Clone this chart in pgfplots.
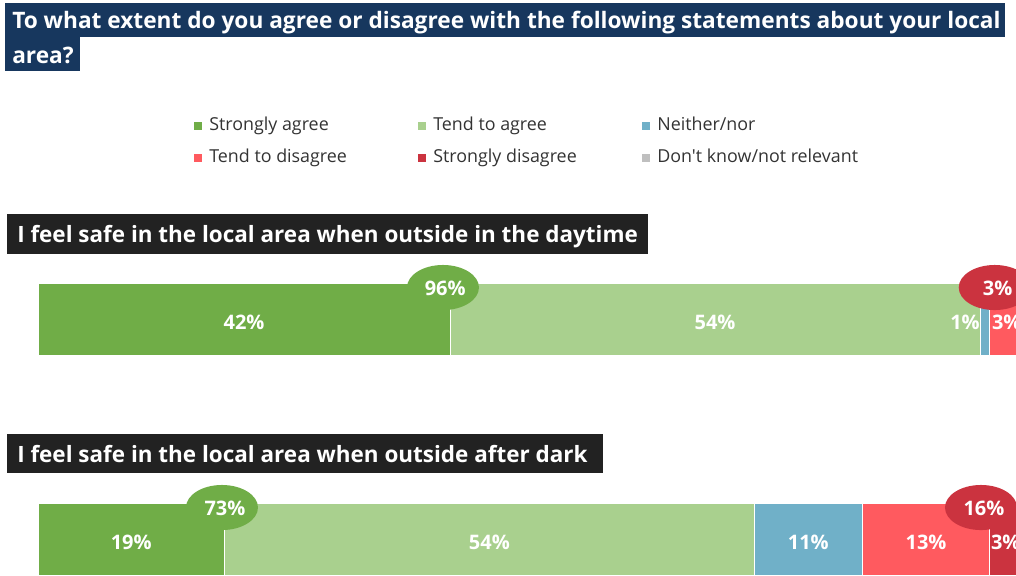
\documentclass[border=0pt]{standalone}
\usepackage{pgfplots}
\pgfplotsset{compat=1.18}
\usepackage{fontspec}
\setmainfont{Open Sans}[Ligatures=TeXOff]
\definecolor{navy}{HTML}{17375E}
\definecolor{hdr}{HTML}{222222}
\definecolor{sa}{HTML}{70AD47}
\definecolor{ta}{HTML}{A9D08E}
\definecolor{nn}{HTML}{70B0C8}
\definecolor{td}{HTML}{FF5A5F}
\definecolor{sd}{HTML}{CB333F}
\definecolor{dk}{HTML}{BFBFBF}
\definecolor{legtext}{HTML}{333333}
\newcommand{\titlefont}{\fontsize{17}{19}\selectfont\bfseries}
\newcommand{\hdrfont}{\fontsize{16.85}{19}\selectfont\bfseries}
\newcommand{\labfont}{\fontsize{15}{17}\selectfont\bfseries}
\newcommand{\legfont}{\fontsize{13.4}{15}\selectfont}
\pgfplotsset{sq/.style={legend image code/.code={\fill[##1] (0pt,-3.375pt) rectangle (6.75pt,3.375pt);}}}
\begin{document}
\begin{tikzpicture}[x=0.75pt,y=-0.75pt]
\useasboundingbox (0,0) rectangle (1016,575);
\clip (0,0) rectangle (1016,575);
% title banner
\fill[navy] (5,3) rectangle (1005,37);
\fill[navy] (5,37) rectangle (80,71);
\node[anchor=base west, text=white, font=\titlefont, inner sep=0] at (12,28) {To what extent do you agree or disagree with the following statements about your local};
\node[anchor=base west, text=white, font=\titlefont, inner sep=0] at (12,63) {area?};
% section headers
\fill[hdr] (7,214) rectangle (648,254);
\node[anchor=base west, text=white, font=\hdrfont, inner sep=0] at (17,242) {I feel safe in the local area when outside in the daytime};
\fill[hdr] (7,434) rectangle (603,473);
\node[anchor=base west, text=white, font=\hdrfont, inner sep=0] at (17,462) {I feel safe in the local area when outside after dark};
\begin{axis}[
  at={(0pt,-431.25pt)}, anchor=south west,
  scale only axis, width=762pt, height=431.25pt,
  xmin=-3.8726, xmax=99.669, ymin=0, ymax=575,
  y dir=reverse, hide axis, clip=true,
  xbar stacked, bar width=72,
  legend columns=3,
  legend style={draw=none, fill=none, inner sep=0pt, row sep=12pt,
    at={(axis cs:15.8,118)}, anchor=north west,
    font=\legfont, text=legtext,
    nodes={inner sep=0pt, text height=9pt, text depth=3pt},
    /tikz/every odd column/.style={column sep=4.5pt}},
  legend cell align=left,
  after end axis/.code={
    \node[anchor=base, text=white, font=\labfont] at (axis cs:21,329) {42\%};
    \node[anchor=base, text=white, font=\labfont] at (axis cs:69,329) {54\%};
    \node[anchor=base east, text=white, font=\labfont, inner sep=0] at (axis cs:96,329) {1\%};
    \node[anchor=base west, text=white, font=\labfont, inner sep=0] at (axis cs:97.2,329) {3\%};
    \node[anchor=base, text=white, font=\labfont] at (axis cs:9.5,549) {19\%};
    \node[anchor=base, text=white, font=\labfont] at (axis cs:46,549) {54\%};
    \node[anchor=base, text=white, font=\labfont] at (axis cs:78.5,549) {11\%};
    \node[anchor=base, text=white, font=\labfont] at (axis cs:90.5,549) {13\%};
    \node[anchor=base west, text=white, font=\labfont, inner sep=0] at (axis cs:97.1,549) {3\%};
    \fill[sa] (axis cs:41.27,287.5) ellipse [x radius=27pt, y radius=16.9pt];
    \node[anchor=base, text=white, font=\labfont] at (axis cs:41.5,295) {96\%};
    \fill[sd] (axis cs:97.5,287.5) ellipse [x radius=27pt, y radius=16.9pt];
    \node[anchor=base, text=white, font=\labfont] at (axis cs:97.8,295) {3\%};
    \fill[sa] (axis cs:18.75,507.5) ellipse [x radius=27pt, y radius=16.9pt];
    \node[anchor=base, text=white, font=\labfont] at (axis cs:19.05,515) {73\%};
    \fill[sd] (axis cs:96.1,507.5) ellipse [x radius=27pt, y radius=16.9pt];
    \node[anchor=base, text=white, font=\labfont] at (axis cs:96.4,515) {16\%};
  },
]
\addplot[sq, fill=sa, draw=white, line width=0.75pt] coordinates {(42,319) (19,539)};
\addplot[sq, fill=ta, draw=white, line width=0.75pt] coordinates {(54,319) (54,539)};
\addplot[sq, fill=nn, draw=white, line width=0.75pt] coordinates {(1,319) (11,539)};
\addplot[sq, fill=td, draw=white, line width=0.75pt] coordinates {(3,319) (13,539)};
\addplot[sq, fill=sd, draw=white, line width=0.75pt] coordinates {(0,319) (3,539)};
\addplot[sq, fill=dk, draw=white, line width=0.75pt] coordinates {(0,319) (0,539)};
\addlegendentry{\makebox[156pt][l]{Strongly agree}}
\addlegendentry{\makebox[156pt][l]{Tend to agree}}
\addlegendentry{\makebox[156pt][l]{Neither/nor}}
\addlegendentry{\makebox[156pt][l]{Tend to disagree}}
\addlegendentry{\makebox[156pt][l]{Strongly disagree}}
\addlegendentry{\makebox[156pt][l]{Don't know/not relevant}}
\end{axis}
\end{tikzpicture}
\end{document}
